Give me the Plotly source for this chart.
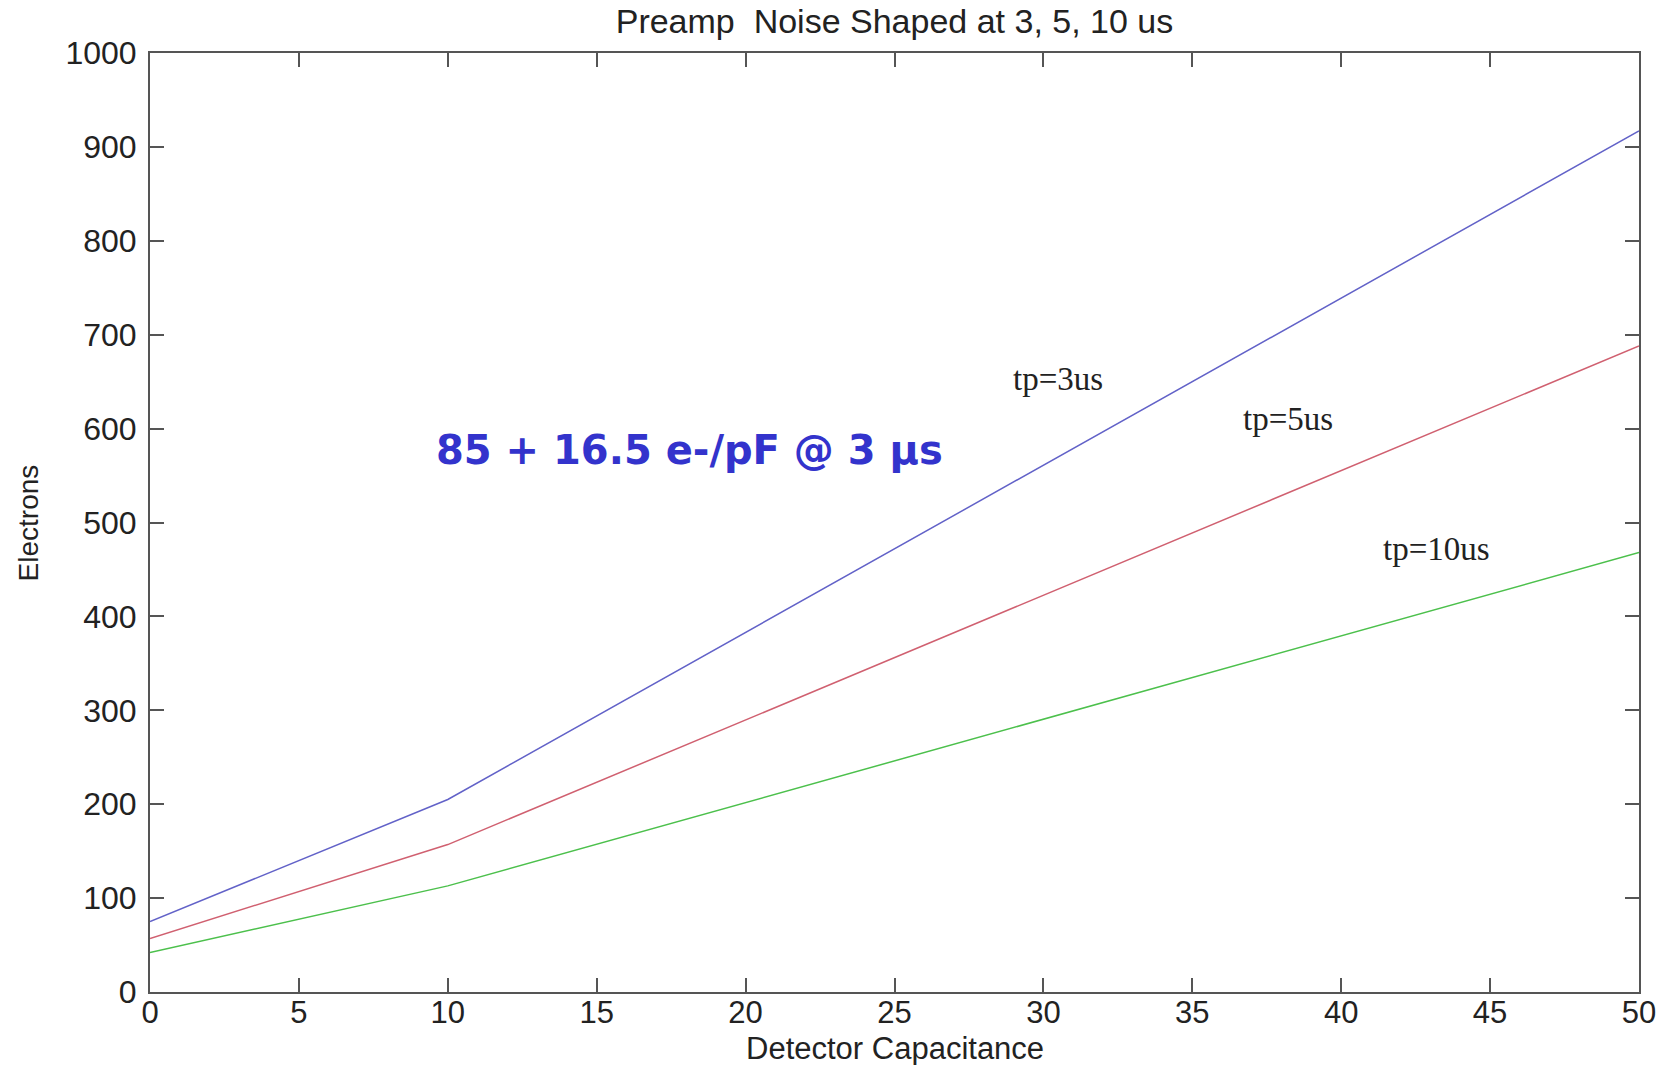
import plotly.graph_objects as go

# Data
capacitance = [0, 10, 50]
noise_3us = [75, 205, 917]
noise_5us = [57, 157, 688]
noise_10us = [42, 113, 468]

x_ticks = [0, 5, 10, 15, 20, 25, 30, 35, 40, 45, 50]
y_ticks = [0, 100, 200, 300, 400, 500, 600, 700, 800, 900, 1000]

title_text = "Preamp  Noise Shaped at 3, 5, 10 us"
x_title = "Detector Capacitance"
y_title = "Electrons"
formula_text = "85 + 16.5 e-/pF @ 3 \u03bcs"
labels = ["tp=3us", "tp=5us", "tp=10us"]
label_x = [30.5, 38.2, 43.2]
label_y = [653, 610, 472]

fig = go.Figure()
for ys, col, name in [(noise_3us, "#6262c8", "tp=3us"),
                      (noise_5us, "#d06070", "tp=5us"),
                      (noise_10us, "#4cc04c", "tp=10us")]:
    fig.add_trace(go.Scatter(x=capacitance, y=ys, mode="lines", name=name,
                             line=dict(color=col, width=1.5), showlegend=False))

axis_common = dict(
    showgrid=False, zeroline=False, showline=True, linecolor="#555555", linewidth=2,
    mirror="ticks", ticks="inside", ticklen=14, tickwidth=1.5, tickcolor="#555555",
)

fig.update_layout(
    width=1673, height=1065,
    margin=dict(l=150, r=34, t=53, b=73),
    paper_bgcolor="white", plot_bgcolor="white",
    title=dict(text=title_text, x=0.5, xref="paper", y=1 - 21 / 1065, yref="container",
               xanchor="center", yanchor="middle",
               font=dict(family="Liberation Sans, Arial, sans-serif", size=34, color="#222222")),
    xaxis=dict(range=[0, 50], tickmode="array", tickvals=x_ticks,
               ticktext=[str(v) for v in x_ticks], ticklabelstandoff=-8,
               tickfont=dict(family="Liberation Sans, Arial, sans-serif", size=31, color="#222222"),
               **axis_common),
    yaxis=dict(range=[0, 1000], tickmode="array", tickvals=y_ticks,
               ticktext=[str(v) for v in y_ticks], ticklabelstandoff=5,
               tickfont=dict(family="Liberation Sans, Arial, sans-serif", size=32, color="#222222"),
               **axis_common),
)

annotations = [
    dict(text=x_title, x=0.5, y=-0.06, xref="paper", yref="paper", showarrow=False,
         xanchor="center", yanchor="middle",
         font=dict(family="Liberation Sans, Arial, sans-serif", size=31, color="#222222")),
    dict(text=y_title, x=-0.0813, y=0.5, xref="paper", yref="paper", showarrow=False,
         xanchor="center", yanchor="middle", textangle=-90,
         font=dict(family="Liberation Sans, Arial, sans-serif", size=28, color="#222222")),
    dict(text="<b>" + formula_text + "</b>", x=18.1, y=577, xref="x", yref="y", showarrow=False,
         xanchor="center", yanchor="middle",
         font=dict(family="DejaVu Sans, Verdana, sans-serif", size=40, color="#3333cc")),
]
for t, lx, ly in zip(labels, label_x, label_y):
    annotations.append(dict(text=t, x=lx, y=ly, xref="x", yref="y", showarrow=False,
                            xanchor="center", yanchor="middle",
                            font=dict(family="Liberation Serif, Times New Roman, serif",
                                      size=33, color="#222222")))
fig.update_layout(annotations=annotations)

fig.write_html("out.html")
